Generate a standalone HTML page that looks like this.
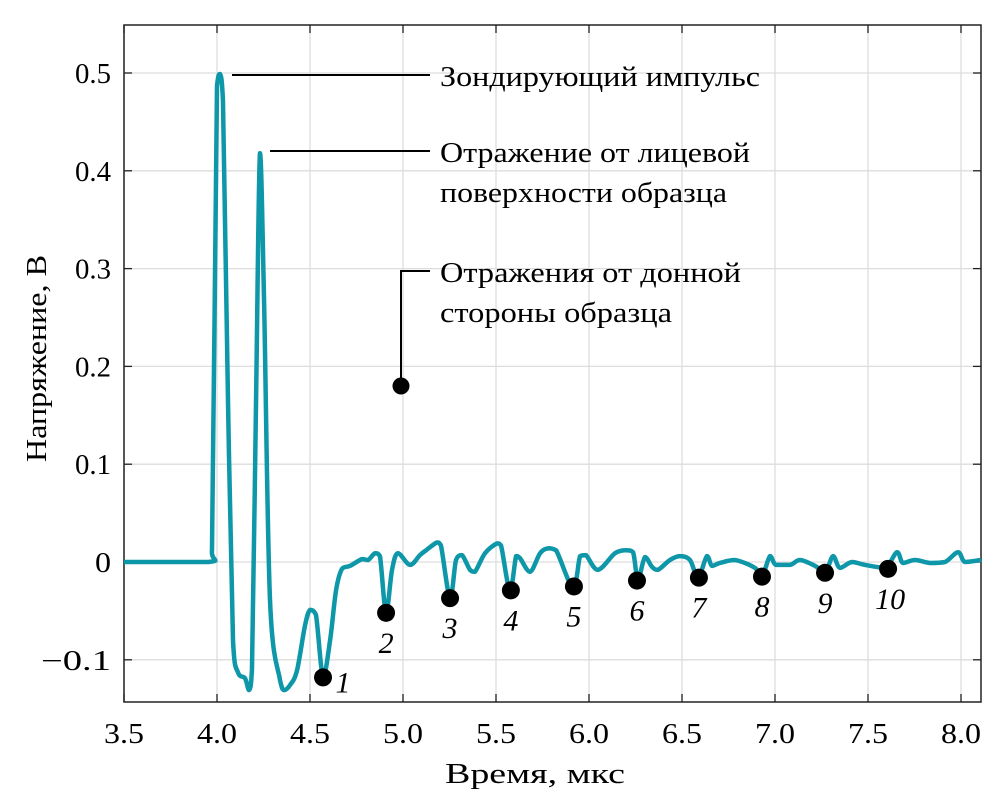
<!DOCTYPE html>
<html><head><meta charset="utf-8"><style>
body{margin:0;background:#fff}
svg{display:block;font-family:"Liberation Serif",serif}
</style></head><body>
<svg id="chart" width="1004" height="806">
<g id="grid"></g><g id="ticks"></g>
<rect x="124" y="25" width="857" height="677" fill="none" stroke="#222" stroke-width="1.5"/>
<g id="series"></g><g id="ann"></g><g id="labels"></g>
<text x="445" y="783" font-size="29" textLength="180" lengthAdjust="spacingAndGlyphs">Время, мкс</text>
<text transform="translate(46,462) rotate(-90)" font-size="29" textLength="207" lengthAdjust="spacingAndGlyphs">Напряжение, В</text>
</svg>
<script>
const times=[3.5,3.952,3.973,4.0,4.016,4.032,4.059,4.086,4.113,4.151,4.172,4.188,4.21,4.231,4.253,4.285,4.339,4.36,4.392,4.43,4.473,4.5,4.532,4.57,4.608,4.64,4.672,4.715,4.78,4.812,4.85,4.876,4.909,4.941,4.973,5.038,5.091,5.124,5.183,5.204,5.253,5.285,5.317,5.36,5.387,5.441,5.505,5.527,5.575,5.608,5.629,5.683,5.737,5.78,5.823,5.914,5.952,5.984,6.048,6.14,6.199,6.237,6.263,6.301,6.339,6.371,6.435,6.489,6.543,6.586,6.634,6.661,6.704,6.785,6.892,6.93,6.973,7.005,7.081,7.134,7.215,7.269,7.312,7.349,7.414,7.484,7.591,7.656,7.688,7.753,7.833,7.914,7.984,8.022,8.108];
const volts=[0,0,0.012,0.487,0.499,0.472,0.166,-0.08,-0.113,-0.119,-0.131,-0.11,0.166,0.418,0.267,-0.039,-0.121,-0.131,-0.126,-0.111,-0.065,-0.049,-0.054,-0.118,-0.08,-0.029,-0.007,-0.004,0.003,0.002,0.009,0.006,-0.052,-0.008,0.009,-0.003,0.007,0.012,0.02,0.017,-0.037,0.002,0.007,-0.008,-0.01,0.009,0.019,0.017,-0.029,0.006,0.004,-0.01,0.009,0.014,0.012,-0.026,0.006,0.007,-0.008,0.009,0.012,0.01,-0.018,0.005,-0.005,-0.008,0.002,0.006,0.002,-0.016,0.006,-0.004,-0.001,0.002,-0.006,-0.015,0.006,-0.003,-0.003,0.002,-0.004,-0.011,0.006,-0.006,0,-0.003,-0.006,0.01,-0.001,0.002,-0.001,0,0.01,0,0.002];
const echoT=[4.57,4.909,5.253,5.58,5.919,6.258,6.591,6.93,7.269,7.608];
const echoV=[-0.118,-0.052,-0.037,-0.029,-0.025,-0.019,-0.016,-0.015,-0.011,-0.007];
const echoLabels=["1","2","3","4","5","6","7","8","9","10"];
const xTicks=[3.5,4.0,4.5,5.0,5.5,6.0,6.5,7.0,7.5,8.0];
const xTickLabels=["3.5","4.0","4.5","5.0","5.5","6.0","6.5","7.0","7.5","8.0"];
const yTicks=[-0.1,0,0.1,0.2,0.3,0.4,0.5];
const yTickLabels=["\u22120.1","0","0.1","0.2","0.3","0.4","0.5"];
const NS="http://www.w3.org/2000/svg";
const X=t=>124+(t-3.5)*186, Y=v=>562-v*978;
function mk(tag,attrs,parent){const e=document.createElementNS(NS,tag);for(const k in attrs)e.setAttribute(k,attrs[k]);document.getElementById(parent).appendChild(e);return e;}
xTicks.forEach((t,i)=>{
 const g=mk('line',{x1:X(t),x2:X(t),y1:25,y2:702,stroke:'#ddd','stroke-width':1.3},'grid');
 
 
 mk('line',{x1:X(t),x2:X(t),y1:702,y2:694,stroke:'#222','stroke-width':1.3},'ticks');
 mk('line',{x1:X(t),x2:X(t),y1:25,y2:33,stroke:'#222','stroke-width':1.3},'ticks');
 const l=mk('text',{x:X(t)-20,y:743,'font-size':28,textLength:40,lengthAdjust:'spacingAndGlyphs'},'labels');l.textContent=xTickLabels[i];
 
 
});
yTicks.forEach((v,i)=>{
 const g=mk('line',{x1:124,x2:981,y1:Y(v),y2:Y(v),stroke:'#ddd','stroke-width':1.3},'grid');
 
 
 mk('line',{x1:124,x2:132,y1:Y(v),y2:Y(v),stroke:'#222','stroke-width':1.3},'ticks');
 mk('line',{x1:981,x2:973,y1:Y(v),y2:Y(v),stroke:'#222','stroke-width':1.3},'ticks');
 const w=yTickLabels[i].length===1?16:yTickLabels[i].length===3?36:70;
 const l=mk('text',{x:111-w,y:Y(v)+10,'font-size':28,textLength:w,lengthAdjust:'spacingAndGlyphs'},'labels');l.textContent=yTickLabels[i];
 
 
});
const P=times.map((t,i)=>[X(t),Y(volts[i])]);
const cl=(v,a,b)=>Math.max(Math.min(a,b),Math.min(Math.max(a,b),v));
let dstr='M'+P[0][0]+','+P[0][1];
for(let i=0;i<P.length-1;i++){
 const p0=P[Math.max(0,i-1)],p1=P[i],p2=P[i+1],p3=P[Math.min(P.length-1,i+2)];
 const k=1/6;
 const c1y=cl(p1[1]+(p2[1]-p0[1])*k,p1[1],p2[1]);
 const c2y=cl(p2[1]-(p3[1]-p1[1])*k,p1[1],p2[1]);
 dstr+=' C'+(p1[0]+(p2[0]-p0[0])*k)+','+c1y+' '+(p2[0]-(p3[0]-p1[0])*k)+','+c2y+' '+p2[0]+','+p2[1];
}
const p=mk('path',{d:dstr,fill:'none',stroke:'#0e97a8','stroke-width':4.5,'stroke-linejoin':'round'},'series');


echoT.forEach((t,i)=>{
 const c=mk('circle',{cx:X(t),cy:Y(echoV[i]),r:9,fill:'#000'},'series');
 
 
 const right=(i===0);
 const l=mk('text',{x:right?X(t)+20:X(t)+(i===9?2:0),y:right?Y(echoV[i])+15:Y(echoV[i])+40,'font-size':30,'font-style':'italic','text-anchor':'middle'},'labels');
 l.textContent=echoLabels[i];
 
 
});
mk('line',{x1:232,x2:430,y1:75,y2:75,stroke:'#000','stroke-width':2},'ann');
mk('line',{x1:270,x2:430,y1:151,y2:151,stroke:'#000','stroke-width':2},'ann');
mk('polyline',{points:'401,386 401,271 430,271',fill:'none',stroke:'#000','stroke-width':2},'ann');
const d=mk('circle',{cx:401,cy:386,r:8.5,fill:'#000'},'ann');


[["Зондирующий импульс",86,320],["Отражение от лицевой",162,310],["поверхности образца",202,287],["Отражения от донной",282,301],["стороны образца",322,232]].forEach(a=>{
 const t=mk('text',{x:440,y:a[1],'font-size':29,textLength:a[2],lengthAdjust:'spacingAndGlyphs'},'ann');t.textContent=a[0];
 
 
});
</script>
</body></html>
